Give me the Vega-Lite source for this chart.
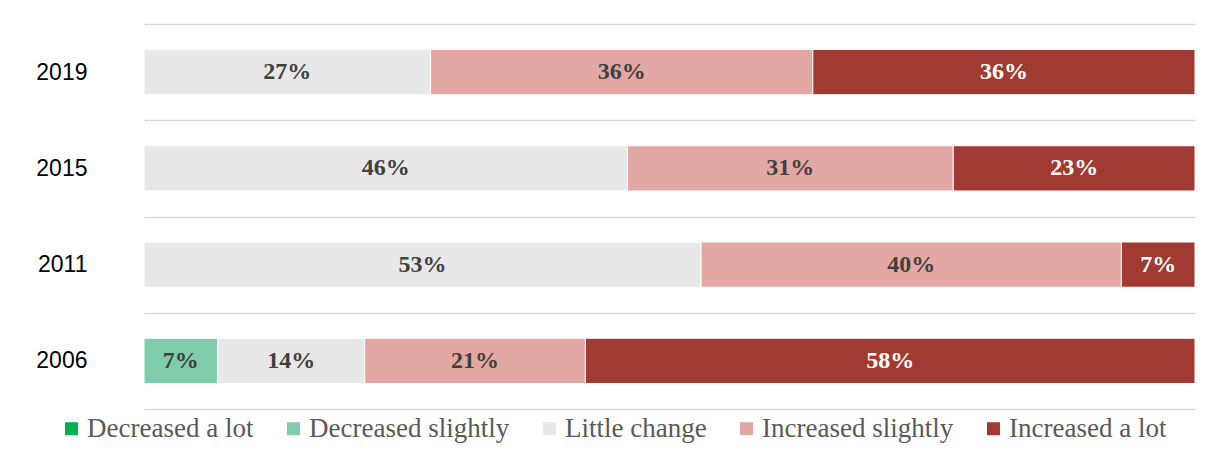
{
  "$schema": "https://vega.github.io/schema/vega-lite/v6.json",
  "width": 1051,
  "height": 385,
  "autosize": "none",
  "padding": {"left": 144, "top": 24, "right": 10, "bottom": 48},
  "background": "white",
  "config": {"view": {"stroke": null}},
  "data": {
    "values": [
      {"year": "2019", "category": "Little change", "value": 0.27, "rank": 3},
      {"year": "2019", "category": "Increased slightly", "value": 0.36, "rank": 4},
      {"year": "2019", "category": "Increased a lot", "value": 0.36, "rank": 5},
      {"year": "2015", "category": "Little change", "value": 0.46, "rank": 3},
      {"year": "2015", "category": "Increased slightly", "value": 0.31, "rank": 4},
      {"year": "2015", "category": "Increased a lot", "value": 0.23, "rank": 5},
      {"year": "2011", "category": "Little change", "value": 0.53, "rank": 3},
      {"year": "2011", "category": "Increased slightly", "value": 0.40, "rank": 4},
      {"year": "2011", "category": "Increased a lot", "value": 0.07, "rank": 5},
      {"year": "2006", "category": "Decreased slightly", "value": 0.07, "rank": 2},
      {"year": "2006", "category": "Little change", "value": 0.14, "rank": 3},
      {"year": "2006", "category": "Increased slightly", "value": 0.21, "rank": 4},
      {"year": "2006", "category": "Increased a lot", "value": 0.58, "rank": 5}
    ]
  },
  "encoding": {
    "y": {
      "field": "year",
      "type": "ordinal",
      "sort": ["2019", "2015", "2011", "2006"],
      "scale": {"paddingInner": 0, "paddingOuter": 0},
      "axis": {
        "title": null,
        "ticks": false,
        "domain": false,
        "tickBand": "extent",
        "grid": true,
        "gridColor": "#d9d9d9",
        "gridWidth": 1.5,
        "labelFont": "Liberation Sans",
        "labelFontSize": 23,
        "labelColor": "#000000",
        "labelPadding": 57
      }
    },
    "x": {"field": "value", "type": "quantitative", "stack": "normalize", "axis": null},
    "order": {"field": "rank", "type": "quantitative"}
  },
  "layer": [
    {
      "mark": {"type": "bar", "stroke": "#ffffff", "strokeWidth": 1, "height": {"band": 0.47}},
      "encoding": {
        "color": {
          "field": "category",
          "type": "nominal",
          "scale": {
            "domain": ["Decreased a lot", "Decreased slightly", "Little change", "Increased slightly", "Increased a lot"],
            "range": ["#00b050", "#80cdab", "#e8e8e8", "#e3a8a4", "#a03a33"]
          },
          "legend": {
            "orient": "none",
            "legendX": -86,
            "legendY": 391,
            "direction": "horizontal",
            "columns": 5,
            "title": null,
            "symbolType": "square",
            "symbolSize": 169,
            "symbolStrokeWidth": 0,
            "labelFont": "Liberation Serif",
            "labelFontSize": 27,
            "labelColor": "#595959",
            "labelOffset": 2,
            "labelLimit": 0,
            "columnPadding": 26
          }
        }
      }
    },
    {
      "mark": {"type": "text", "font": "Liberation Serif", "fontWeight": "bold", "fontSize": 24},
      "encoding": {
        "x": {"field": "value", "type": "quantitative", "stack": "normalize", "bandPosition": 0.5},
        "text": {"field": "value", "type": "quantitative", "format": ".0%"},
        "color": {
          "condition": {"test": "datum.category === 'Increased a lot'", "value": "#ffffff"},
          "value": "#404040"
        }
      }
    }
  ]
}
